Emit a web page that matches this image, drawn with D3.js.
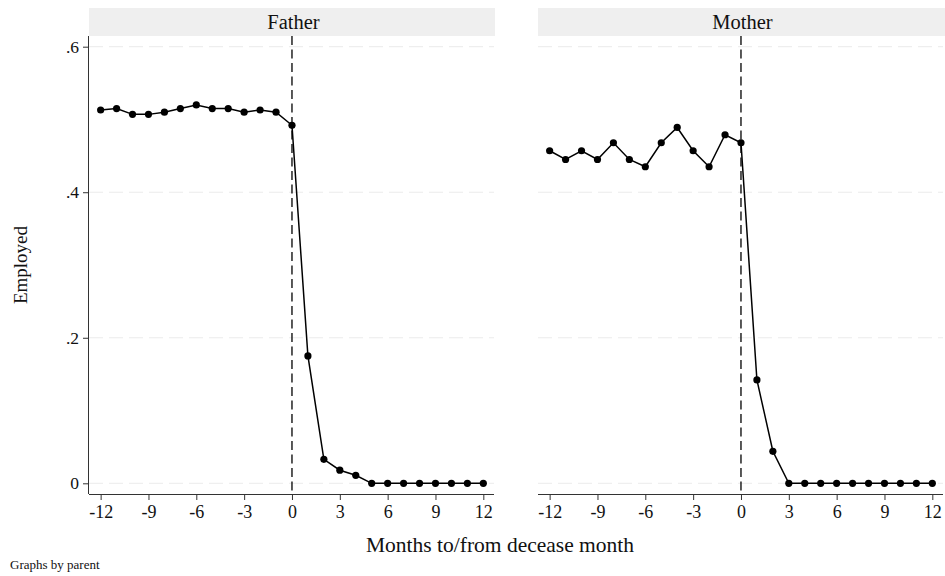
<!DOCTYPE html>
<html>
<head>
<meta charset="utf-8">
<script src="https://cdn.jsdelivr.net/npm/d3@7"></script>
<style>
  html, body { margin: 0; padding: 0; background: #fff; }
  svg, svg text { font-family: "Liberation Serif", "Times New Roman", serif !important; }
</style>
</head>
<body>
<svg id="chart" width="945" height="576"></svg>
<script>
// Employment share by month relative to the parent's death
const months = d3.range(-12, 13);
const panels = ["Father", "Mother"];
const fatherEmployed = [0.513, 0.515, 0.507, 0.507, 0.510, 0.515, 0.520, 0.515, 0.515, 0.510, 0.513, 0.510,
                        0.492, 0.175, 0.033, 0.018, 0.011, 0, 0, 0, 0, 0, 0, 0, 0];
const motherEmployed = [0.457, 0.445, 0.457, 0.445, 0.468, 0.445, 0.435, 0.468, 0.489, 0.457, 0.435, 0.479,
                        0.468, 0.142, 0.044, 0, 0, 0, 0, 0, 0, 0, 0, 0, 0];
const yTicks = [0, 0.2, 0.4, 0.6];
const yTickLabels = ["0", ".2", ".4", ".6"];
const xTicks = [-12, -9, -6, -3, 0, 3, 6, 9, 12];

const seriesByPanel = [fatherEmployed, motherEmployed];

const svg = d3.select("#chart");

const panelLeft = [89, 538];
const panelWidth = 405;
const stripTop = 8, plotTop = 36, plotBottom = 494;

const y = d3.scaleLinear().domain([-0.0147, 0.6147]).range([plotBottom, plotTop]);

panels.forEach((name, i) => {
  const x0 = panelLeft[i];
  const x = d3.scaleLinear().domain([-12.73, 12.67]).range([x0, x0 + panelWidth]);
  const g = svg.append("g");

  // strip header
  g.append("rect")
    .attr("x", x0).attr("y", stripTop)
    .attr("width", i === 0 ? panelWidth + 1 : 945 - x0).attr("height", plotTop - stripTop)
    .attr("fill", "#efefef");
  g.append("text")
    .attr("x", x0 + panelWidth / 2 + 2).attr("y", 29)
    .attr("text-anchor", "middle")
    .attr("font-size", 20.5).attr("fill", "#111")
    .text(name);

  // horizontal gridlines
  g.selectAll(".grid").data(yTicks).join("line")
    .attr("x1", x0).attr("x2", x0 + panelWidth)
    .attr("y1", d => y(d)).attr("y2", d => y(d))
    .attr("stroke", "#ebebeb").attr("stroke-width", 1)
    .attr("stroke-dasharray", "14,6");

  // reference line at the decease month
  g.append("line")
    .attr("x1", x(0)).attr("x2", x(0))
    .attr("y1", plotTop).attr("y2", plotBottom)
    .attr("stroke", "#000").attr("stroke-width", 1.3)
    .attr("stroke-dasharray", "9,4.5");

  // x axis
  const xAxis = d3.axisBottom(x).tickValues(xTicks).tickSize(6).tickPadding(4)
    .tickFormat(d => d < 0 ? "-" + Math.abs(d) : String(d));
  const gx = g.append("g").attr("transform", `translate(0,${plotBottom})`).call(xAxis)
    .attr("font-family", null).attr("font-size", null);
  gx.select(".domain").attr("d", `M${x0},0.5H${x0 + panelWidth}`).attr("stroke", "#333");
  gx.selectAll(".tick line").attr("stroke", "#333");
  gx.selectAll(".tick text").attr("font-size", 18).attr("fill", "#111").attr("dy", "0.75em");

  // y axis on the first panel only
  if (i === 0) {
    const yAxis = d3.axisLeft(y).tickValues(yTicks).tickSize(6).tickPadding(4)
      .tickFormat((d, k) => yTickLabels[k]);
    const gy = g.append("g").attr("transform", `translate(${x0},0)`).call(yAxis)
      .attr("font-family", null).attr("font-size", null);
    gy.select(".domain").attr("d", `M-0.5,${plotTop}V${plotBottom}`).attr("stroke", "#333");
    gy.selectAll(".tick line").attr("stroke", "#333");
    gy.selectAll(".tick text").attr("font-size", 17.5).attr("fill", "#111");
  }

  // series line and markers
  const pts = months.map((m, k) => ({ m, v: seriesByPanel[i][k] }));
  g.append("path").datum(pts)
    .attr("fill", "none").attr("stroke", "#000").attr("stroke-width", 1.5)
    .attr("d", d3.line().x(d => x(d.m)).y(d => y(d.v)));
  g.selectAll(".pt").data(pts).join("circle")
    .attr("cx", d => x(d.m)).attr("cy", d => y(d.v)).attr("r", 3.6)
    .attr("fill", "#000");
});

// axis titles and note
svg.append("text")
  .attr("transform", "translate(27,265) rotate(-90)")
  .attr("text-anchor", "middle").attr("font-size", 19).attr("fill", "#111")
  .text("Employed");
svg.append("text")
  .attr("x", 500).attr("y", 552)
  .attr("text-anchor", "middle").attr("font-size", 21.5).attr("fill", "#111")
  .text("Months to/from decease month");
svg.append("text")
  .attr("x", 10).attr("y", 569)
  .attr("font-size", 13).attr("fill", "#111")
  .text("Graphs by parent");
</script>
</body>
</html>
